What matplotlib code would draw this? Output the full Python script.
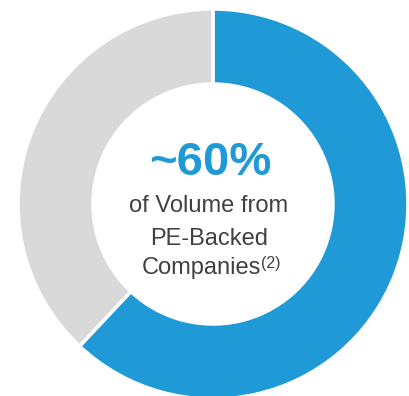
import matplotlib.pyplot as plt

# Data
labels = ["PE-Backed", "Other"]
shares = [62, 38]
colors = ["#1F9AD6", "#D9D9D9"]
headline = "~60%"
caption = ["of Volume from", "PE-Backed", "Companies"]
footnote = "(2)"

plt.rcParams['font.family'] = ['Liberation Sans', 'DejaVu Sans']

W, H = 409, 396
fig = plt.figure(figsize=(W / 100, H / 100), dpi=100)
ax = fig.add_axes([0, 0, 1, 1])

# work in pixel coords (y measured from top of image, flipped below)
cx, cy, r, r_in = 213, 204, 195, 120
ax.pie(shares, colors=colors, startangle=90, counterclock=False,
       center=(cx, H - cy), radius=r, frame=True,
       wedgeprops=dict(width=r - r_in, edgecolor='white', linewidth=2.5))
ax.set_xlim(0, W)
ax.set_ylim(0, H)
ax.set_aspect('auto')
ax.axis('off')

ax.text(210, H - 175, headline, ha='center', va='baseline',
        fontsize=34, fontweight='bold', color='#1F9AD6')
ax.text(209, H - 212, caption[0], ha='center', va='baseline', fontsize=17, color='#404040')
ax.text(209, H - 245, caption[1], ha='center', va='baseline', fontsize=17, color='#404040')
ax.text(261, H - 274, caption[2], ha='right', va='baseline', fontsize=17, color='#404040')
ax.text(261, H - 268, footnote, ha='left', va='baseline', fontsize=11.5, color='#404040')

fig.savefig("out.png", dpi=100)
